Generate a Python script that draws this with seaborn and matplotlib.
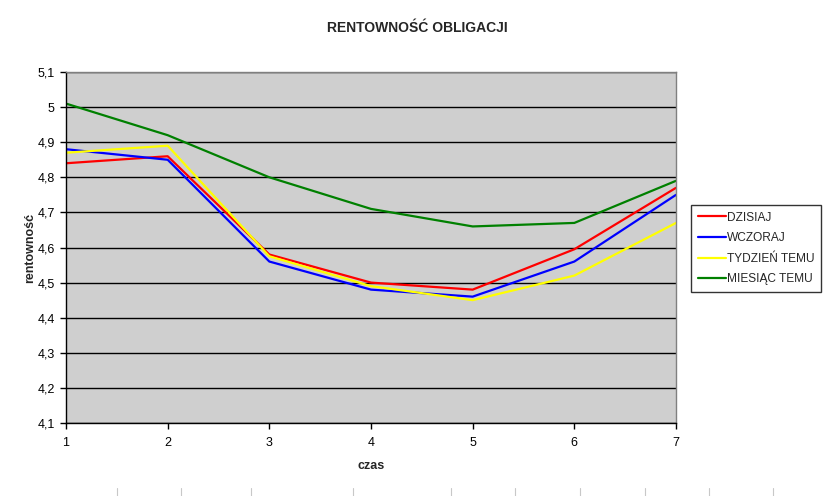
import matplotlib
matplotlib.use("Agg")
import matplotlib.pyplot as plt
import matplotlib.ticker as mticker
from matplotlib.lines import Line2D
import seaborn as sns
import pandas as pd

czas = [1, 2, 3, 4, 5, 6, 7]
dzisiaj = [4.84, 4.86, 4.58, 4.50, 4.48, 4.595, 4.77]
wczoraj = [4.88, 4.85, 4.56, 4.48, 4.46, 4.56, 4.75]
tydzien_temu = [4.87, 4.89, 4.575, 4.49, 4.45, 4.52, 4.67]
miesiac_temu = [5.01, 4.92, 4.80, 4.71, 4.66, 4.67, 4.79]
series_names = ["DZISIAJ", "WCZORAJ", "TYDZIEŃ TEMU", "MIESIĄC TEMU"]
series_colors = ["#FF0000", "#0000FF", "#FFFF00", "#008000"]
y_ticks = [4.1, 4.2, 4.3, 4.4, 4.5, 4.6, 4.7, 4.8, 4.9, 5.0, 5.1]

rows = []
for name, vals in zip(series_names, [dzisiaj, wczoraj, tydzien_temu, miesiac_temu]):
    for x, v in zip(czas, vals):
        rows.append({"czas": x, "rentowność": v, "seria": name})
df = pd.DataFrame(rows)

sns.set_theme(style="white")
plt.rcParams['font.family'] = ['Liberation Sans', 'DejaVu Sans']

fig = plt.figure(figsize=(8.28, 4.96), dpi=100)
ax = fig.add_axes([66/828, 1-423/496, (676-66)/828, (423-72)/496])
ax.set_facecolor("#CFCFCF")

sns.lineplot(data=df, x="czas", y="rentowność", hue="seria",
             hue_order=series_names, palette=series_colors,
             linewidth=1.6, ax=ax, legend=True)

ax.set_xlim(1, 7)
ax.set_ylim(4.1, 5.1)
ax.set_xticks(czas)
ax.set_yticks(y_ticks)
ax.yaxis.set_major_formatter(mticker.FuncFormatter(
    lambda v, p: ("%g" % round(v, 2)).replace(".", ",")))
ax.grid(True, axis="y", color="black", linewidth=1.0)
ax.set_axisbelow(True)

for s in ["left", "bottom"]:
    ax.spines[s].set_color("black")
    ax.spines[s].set_linewidth(1.0)
for s in ["top", "right"]:
    ax.spines[s].set_color("#808080")
    ax.spines[s].set_linewidth(1.0)

ax.tick_params(axis="both", which="major", direction="out", length=4,
               width=1, color="black", labelsize=9, labelcolor="black",
               left=True, bottom=True, pad=4)
ax.tick_params(axis="x", pad=6)

ax.set_xlabel("czas", fontsize=9, fontweight="bold", labelpad=8)
ax.set_ylabel("rentowność", fontsize=9, fontweight="bold")
ax.yaxis.set_label_coords(-0.049, 0.5)

fig.text(417/828, 1-28/496, "RENTOWNOŚĆ OBLIGACJI", ha="center", va="center",
         fontsize=10, fontweight="bold")

leg = ax.legend(loc="upper left", bbox_to_anchor=(691/828, 1-205/496),
                bbox_transform=fig.transFigure, borderaxespad=0,
                fontsize=8.6, frameon=True, fancybox=False, title=None,
                handlelength=2.4, handletextpad=0.1, labelspacing=0.72,
                borderpad=0.55)
leg.get_frame().set_edgecolor("black")
leg.get_frame().set_linewidth(1.0)
leg.get_frame().set_facecolor("white")
for line in leg.get_lines():
    line.set_linewidth(1.6)

# spreadsheet cell border artifacts at bottom
for px in [117, 181, 251, 353, 451, 515, 580, 645, 709, 773]:
    fig.lines.append(Line2D([px/828, px/828], [0, 8/496], transform=fig.transFigure,
                            color="#C8C8C8", linewidth=0.8))

fig.savefig("out.png", dpi=100)
